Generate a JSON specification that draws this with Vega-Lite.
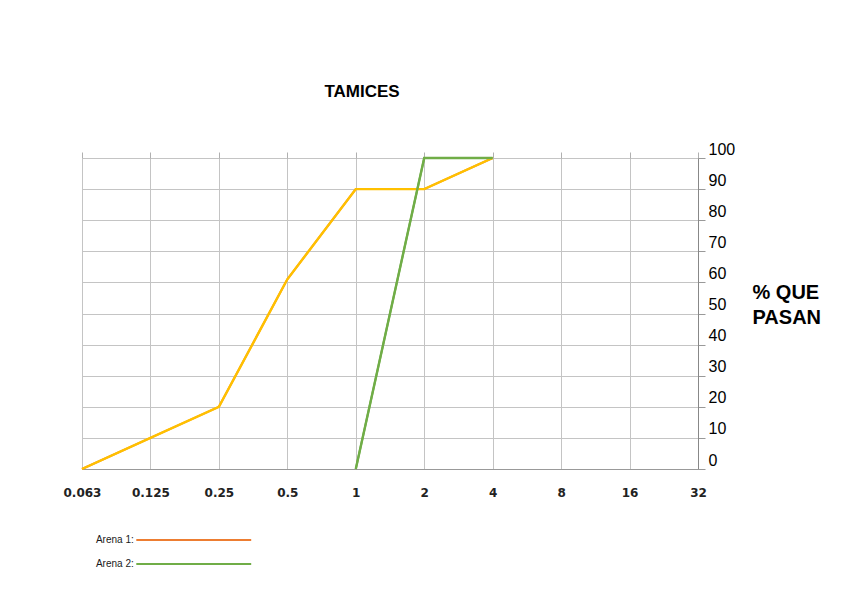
{
  "$schema": "https://vega.github.io/schema/vega-lite/v6.json",
  "width": 616,
  "height": 311,
  "autosize": {"type": "none"},
  "padding": {"left": 82, "top": 158, "right": 150, "bottom": 130},
  "background": "white",
  "title": {"text": "TAMICES", "font": "Liberation Sans", "fontSize": 17, "fontWeight": "bold", "color": "#000000", "anchor": "middle", "dx": -28, "offset": 40},
  "config": {"view": {"stroke": null}},
  "data": {"values": [
    {"serie": "Arena 1", "tamiz": "0.063", "pct": 0},
    {"serie": "Arena 1", "tamiz": "0.125", "pct": 10},
    {"serie": "Arena 1", "tamiz": "0.25", "pct": 20},
    {"serie": "Arena 1", "tamiz": "0.5", "pct": 61},
    {"serie": "Arena 1", "tamiz": "1", "pct": 90},
    {"serie": "Arena 1", "tamiz": "2", "pct": 90},
    {"serie": "Arena 1", "tamiz": "4", "pct": 100},
    {"serie": "Arena 2", "tamiz": "1", "pct": 0},
    {"serie": "Arena 2", "tamiz": "2", "pct": 100},
    {"serie": "Arena 2", "tamiz": "4", "pct": 100}
  ]},
  "encoding": {
    "y": {
      "field": "pct", "type": "quantitative",
      "scale": {"domain": [0, 100], "nice": false},
      "axis": {"orient": "right", "tickCount": 10, "tickMinStep": 10, "labelOverlap": false, "labelBound": false, "labelFlush": false, "grid": true, "gridColor": "#c4c4c4", "tickSize": 7, "tickColor": "#999999", "domainColor": "#888888", "labelFont": "Liberation Sans", "labelFontSize": 16, "labelColor": "#000000", "labelPadding": 3, "labelOffset": -9, "title": ["% QUE", "PASAN"], "titleFont": "Liberation Sans", "titleFontSize": 20, "titleFontWeight": "bold", "titleColor": "#000000", "titleAngle": 0, "titleAlign": "left", "titleBaseline": "top", "titleX": 54, "titleY": 124, "titleLineHeight": 25}
    }
  },
  "layer": [
    {
      "mark": {"type": "line", "strokeWidth": 2},
      "encoding": {
        "x": {
          "field": "tamiz", "type": "ordinal",
          "scale": {"type": "point", "padding": 0, "domain": ["0.063", "0.125", "0.25", "0.5", "1", "2", "4", "8", "16", "32"]},
          "axis": {"orient": "top", "title": null, "grid": false, "labels": false, "ticks": true, "tickSize": 6, "tickColor": "#b0b0b0", "domain": false}
        },
        "color": {
          "field": "serie", "type": "nominal",
          "scale": {"domain": ["Arena 1", "Arena 2"], "range": ["#ED7D31", "#70AD47"]},
          "legend": {"orient": "none", "legendX": 104.75, "legendY": 375, "title": null, "padding": 0, "symbolType": "M -10 0 L 10 0", "symbolSize": 132, "symbolStrokeWidth": 2, "labelAlign": "right", "labelOffset": -67, "labelFont": "Liberation Sans", "labelFontSize": 10, "labelColor": "#1a1a1a", "rowPadding": 12, "labelExpr": "datum.label + ':'"}
        }
      }
    },
    {
      "mark": {"type": "line", "strokeWidth": 2.4},
      "encoding": {
        "x": {
          "field": "tamiz", "type": "ordinal",
          "axis": {"orient": "bottom", "title": null, "grid": true, "gridColor": "#c4c4c4", "ticks": false, "labelPadding": 18, "domainColor": "#999999", "labelFont": "DejaVu Sans", "labelFontSize": 12, "labelFontWeight": "bold", "labelColor": "#222222", "labelAngle": 0}
        },
        "stroke": {"field": "serie", "type": "nominal", "scale": {"domain": ["Arena 1", "Arena 2"], "range": ["#FFC000", "#70AD47"]}, "legend": null}
      }
    }
  ],
  "resolve": {"axis": {"x": "independent"}}
}
